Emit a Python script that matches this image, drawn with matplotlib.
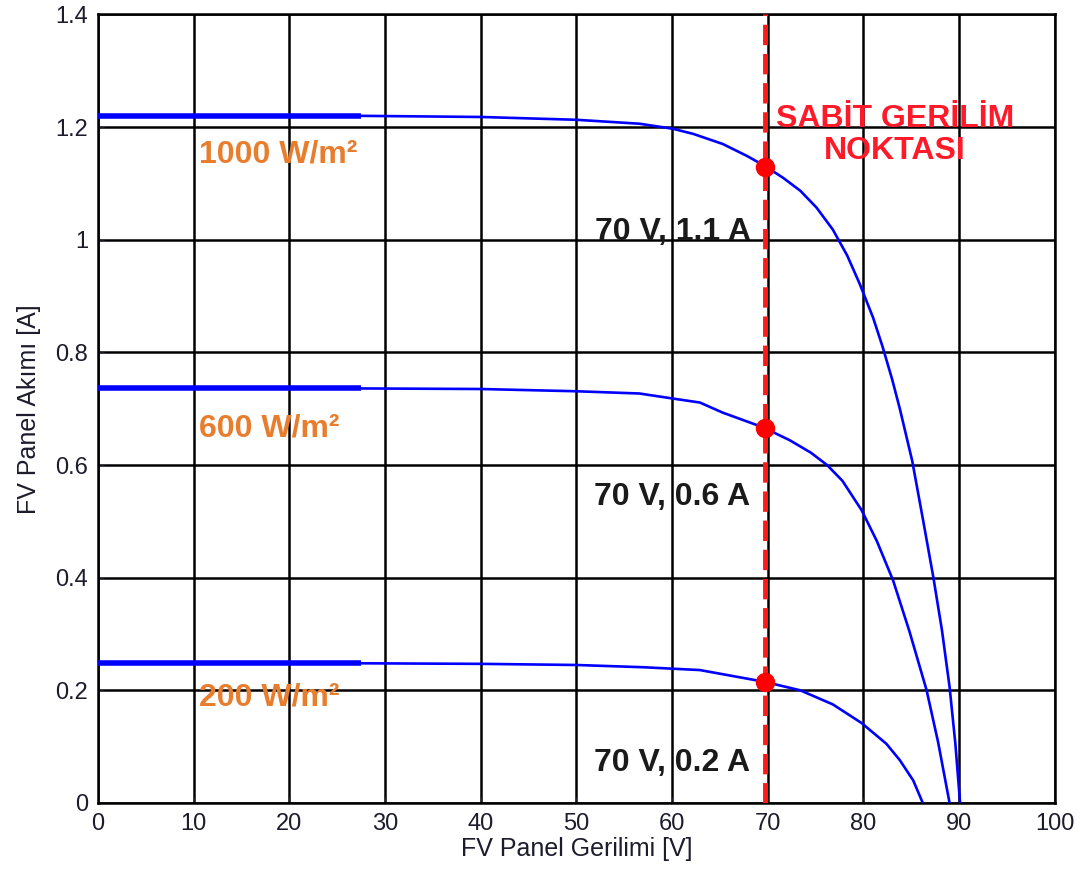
import matplotlib.pyplot as plt

plt.rcParams['font.family'] = ['Liberation Sans', 'DejaVu Sans']

# I-V egrileri (okunan degerler)
v_1000 = [0, 27.5, 40, 50, 56.6, 60.1, 62.2, 65.3, 67.8, 69.7, 71.6, 73.4, 75.1, 76.8, 78.3,
          79.6, 81.0, 82.0, 83.0, 83.8, 85.1, 86.2, 87.3, 88.2, 89.0, 89.6, 90.1]
i_1000 = [1.22, 1.22, 1.218, 1.213, 1.206, 1.197, 1.188, 1.170, 1.149, 1.131, 1.110, 1.087, 1.057,
          1.018, 0.972, 0.922, 0.862, 0.810, 0.752, 0.70, 0.607, 0.505, 0.401, 0.307, 0.206, 0.106, 0.0]

v_600 = [0, 27.5, 40, 50, 56.6, 60.1, 62.9, 65.3, 69.5, 72.3, 74.5, 76.2, 77.8, 79.8, 81.4, 83.1,
         84.8, 86.6, 87.8, 89.0]
i_600 = [0.736, 0.736, 0.735, 0.731, 0.727, 0.718, 0.711, 0.693, 0.667, 0.644, 0.622, 0.60, 0.572,
         0.52, 0.465, 0.395, 0.305, 0.20, 0.108, 0.0]

v_200 = [0, 27.5, 40, 50, 57, 62.9, 69.7, 73.4, 76.8, 79.8, 82.4, 83.8, 85.2, 86.2]
i_200 = [0.248, 0.248, 0.247, 0.245, 0.241, 0.236, 0.215, 0.20, 0.175, 0.142, 0.105, 0.076, 0.04, 0.0]

v_thick = 27.5
v_sabit = 70
i_nokta = [1.13, 0.665, 0.215]

etiketler = ['1000 W/m²', '600 W/m²', '200 W/m²']
etiket_y = [1.152, 0.665, 0.188]
nokta_yazi = ['70 V, 1.1 A', '70 V, 0.6 A', '70 V, 0.2 A']
nokta_yazi_y = [1.014, 0.543, 0.071]

fig = plt.figure(figsize=(10.8, 8.82), dpi=100)
ax = fig.add_axes([0.0907, 0.0896, 0.886, 0.894])

for v, i in [(v_1000, i_1000), (v_600, i_600), (v_200, i_200)]:
    ax.plot(v, i, color='#0000ff', lw=1.9, zorder=3)
    ax.plot([0, v_thick], [i[0], i[1]], color='#0000ff', lw=4, zorder=3, solid_capstyle='butt')

ax.axvline(v_sabit - 0.3, color='#ff1a1a', lw=3.5, ls=(0, (4.2, 1.8)), zorder=4)
ax.plot([v_sabit - 0.3] * 3, i_nokta, 'o', color='#ff0000', ms=13, zorder=5)

for txt, y in zip(etiketler, etiket_y):
    ax.text(10.6, y, txt, color='#e87d2e', fontsize=23, fontweight='bold', va='center', ha='left')

for txt, y in zip(nokta_yazi, nokta_yazi_y):
    ax.text(68.2, y, txt, color='#1a1a1a', fontsize=23, fontweight='bold', va='center', ha='right')

ax.text(83.3, 1.186, 'SABİT GERİLİM\nNOKTASI', color='#ff1a2a', fontsize=23, fontweight='bold',
        ha='center', va='center', linespacing=1.05)

ax.set_xlim(0, 100)
ax.set_ylim(0, 1.4)
ax.set_xticks(range(0, 101, 10))
ax.set_yticks([0, 0.2, 0.4, 0.6, 0.8, 1, 1.2, 1.4])
ax.set_yticklabels(['0', '0.2', '0.4', '0.6', '0.8', '1', '1.2', '1.4'])
ax.grid(True, color='black', lw=1.8)
ax.set_axisbelow(True)
for s in ax.spines.values():
    s.set_linewidth(1.8)
ax.tick_params(direction='in', length=4, labelsize=17, colors='#1c1c2c', pad=7)

ax.set_xlabel('FV Panel Gerilimi [V]', fontsize=18, color='#1c1c2c', labelpad=2)
ax.set_ylabel('FV Panel Akımı [A]', fontsize=18, color='#1c1c2c', labelpad=10)

fig.savefig('out.png', dpi=100)
